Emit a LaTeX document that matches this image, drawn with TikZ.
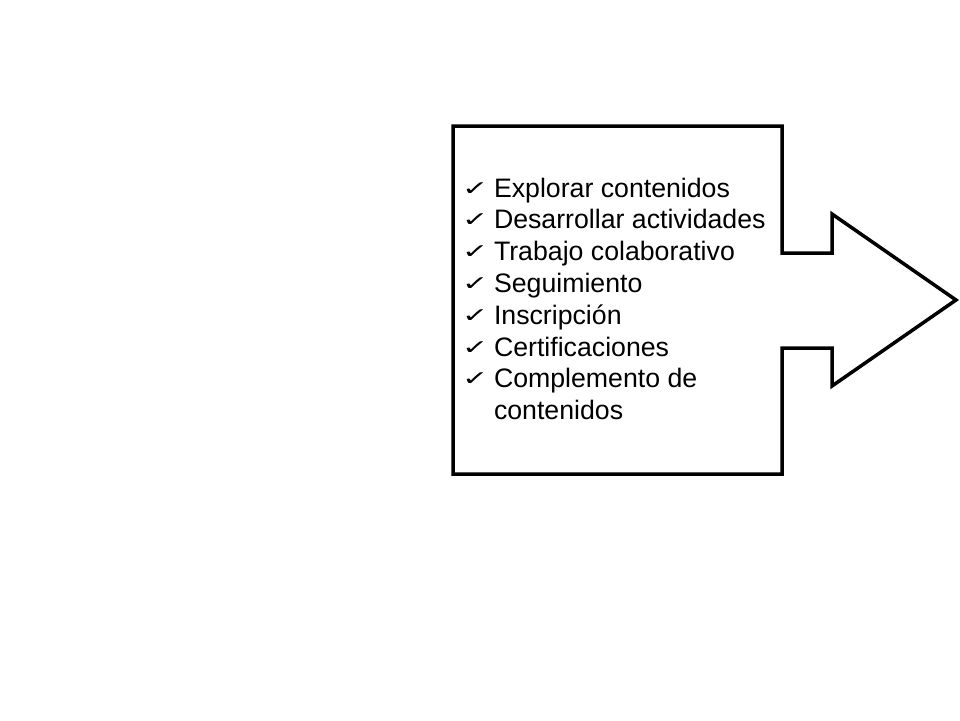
\documentclass[tikz,border=0pt]{standalone}
\usepackage{fontspec}
\usepackage{graphicx}
\setmainfont{Liberation Sans}
\newfontfamily\symfont{DejaVu Sans}
\usetikzlibrary{positioning}
\newcommand{\chk}{\makebox[28pt][l]{\hspace*{-4pt}\raisebox{2pt}{\scalebox{1.05}[0.68]{\symfont\fontsize{30}{30}\selectfont ✓}}}}
\tikzset{
    outline/.style={draw, line width=3.5pt, line join=miter},
    itemlist/.style={anchor=base west, inner sep=0pt, outer sep=0pt, font={\fontsize{26.7}{31.8}\selectfont}}
}

\begin{document}
\begin{tikzpicture}[x=1pt, y=-1pt]
  \useasboundingbox (0,0) rectangle (960,720);
  \draw[outline](453,126)--(782,126)--(782,253)--(832,253)--(832,214)--(956,300)
    --(832,386)--(832,348)--(782,348)--(782,474)--(453,474)--cycle;
  \node(list)[itemlist] at (466,197){%
    \begin{tabular}[t]{@{}l@{}}
      \chk Explorar contenidos\\
      \chk Desarrollar actividades\\
      \chk Trabajo colaborativo\\
      \chk Seguimiento\\
      \chk Inscripción\\
      \chk Certificaciones\\
      \chk Complemento de\\
      \hspace*{28pt}contenidos
    \end{tabular}};
\end{tikzpicture}
\end{document}
